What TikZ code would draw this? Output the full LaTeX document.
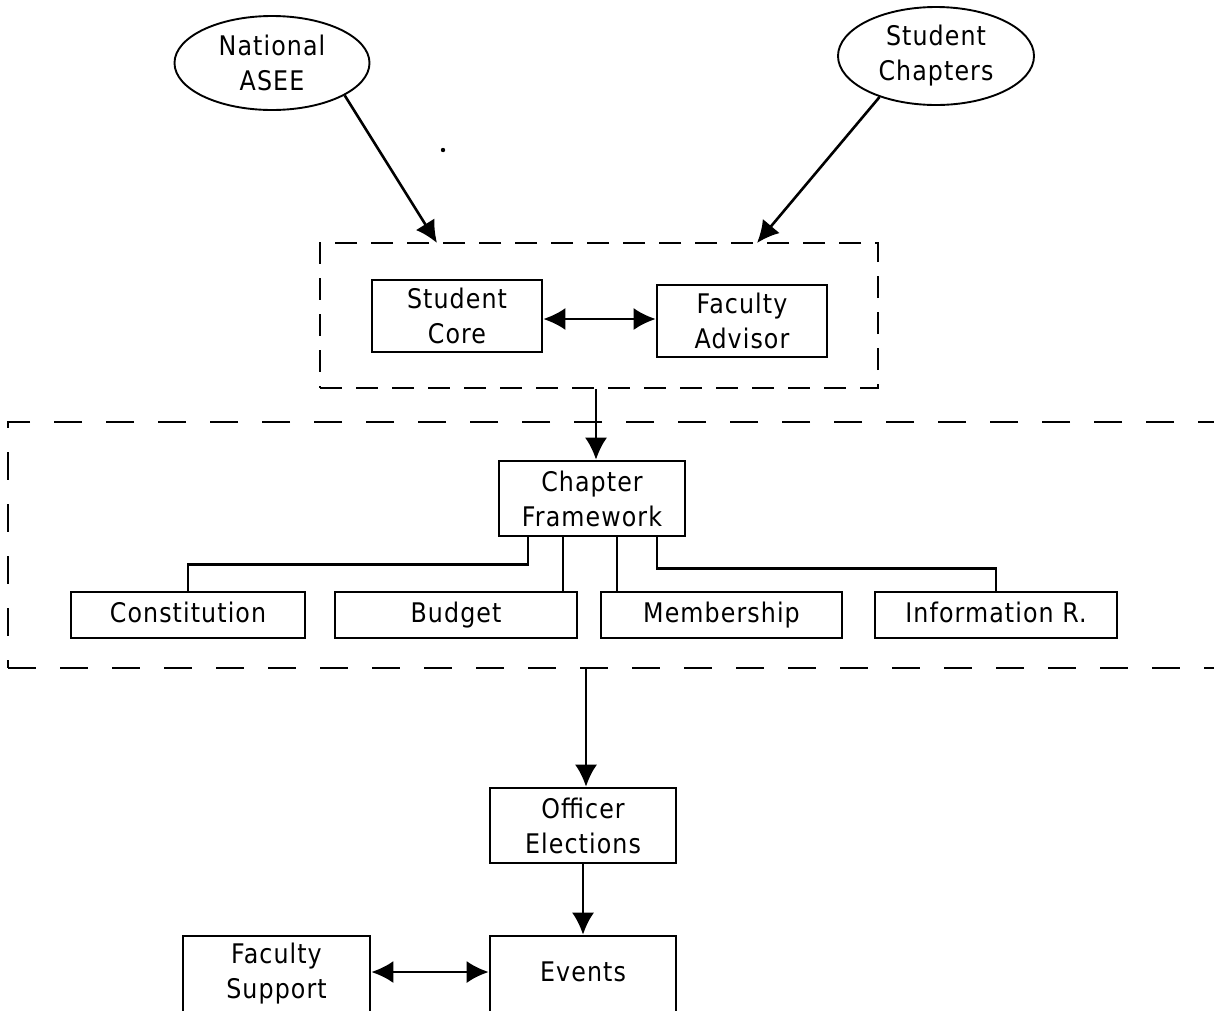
\documentclass[tikz,border=0pt]{standalone}
\usepackage{fontspec}
\setmainfont{DejaVu Sans}[FakeStretch=0.88,LetterSpace=4]
\usetikzlibrary{shapes.geometric,arrows.meta}
\begin{document}
\begin{tikzpicture}[x=1pt,y=-1pt,
  every node/.style={font=\fontsize{27}{35}\selectfont, align=center},
  box/.style={draw, line width=2.6pt, inner sep=0pt},
  oval/.style={draw, ellipse, line width=1.9pt, inner sep=0pt},
  ln/.style={line width=2.6pt},
  arr/.style={line width=2.6pt, -{Latex[length=22pt,width=22pt]}},
  dbl/.style={line width=2.6pt, {Latex[length=22pt,width=22pt]}-{Latex[length=22pt,width=22pt]}},
  grpbox/.style={draw, line width=2.6pt, dash pattern=on 22pt off 14pt, inner sep=0pt},
  bigdash/.style={draw, line width=2.6pt, dash pattern=on 28pt off 24pt, inner sep=0pt},
]
\useasboundingbox (0,0) rectangle (1214,1010);
\clip (0,0) rectangle (1214,1010);
\fill[white] (0,0) rectangle (1214,1010);

% top ovals
\node[oval, minimum width=195pt, minimum height=94pt] (asee) at (272,63) {National\\ASEE};
\node[oval, minimum width=196pt, minimum height=98pt] (chap) at (936,56) {Student\\Chapters};

% leadership group
\node[grpbox, minimum width=558pt, minimum height=145pt] (grp) at (599,315.5) {};
\node[box, minimum width=170pt, minimum height=72pt] (core) at (457,316) {Student\\Core};
\node[box, minimum width=170pt, minimum height=72pt] (adv) at (742,321) {Faculty\\Advisor};
\coordinate (ta) at (437,243);
\coordinate (tb) at (757,243);
\draw[arr] (asee.-24) -- (ta);
\draw[arr] (chap.216) -- (tb);
\coordinate (ya) at (0,319);
\draw[dbl] (core.east |- ya) -- (adv.west |- ya);

% chapter framework phase
\node[bigdash, minimum width=1240pt, minimum height=246pt] (phase) at (628,545) {};
\node[box, minimum width=186pt, minimum height=75pt] (fw) at (592,498.5) {Chapter\\Framework};
\coordinate (xa) at (596,0);
\draw[arr] (grp.south -| xa) -- (fw.north -| xa);

\node[box, minimum width=234pt, minimum height=46pt] (cons) at (188,615) {\strut Constitution};
\node[box, minimum width=242pt, minimum height=46pt] (bud) at (456,615) {\strut Budget};
\node[box, minimum width=241pt, minimum height=46pt] (mem) at (721.5,615) {\strut Membership};
\node[box, minimum width=242pt, minimum height=46pt] (info) at (996,615) {\strut Information R.};

\draw[ln] ([xshift=-64pt]fw.south) -- ++(0,27) -| (cons.north);
\draw[ln] ([xshift=-29pt]fw.south) -- ([xshift=-29pt]fw.south |- bud.north);
\draw[ln] ([xshift=25pt]fw.south) -- ([xshift=25pt]fw.south |- mem.north);
\draw[ln] ([xshift=65pt]fw.south) -- ++(0,31) -| (info.north);

% lower part
\node[box, minimum width=186pt, minimum height=75pt] (off) at (583,825.5) {Officer\\Elections};
\coordinate (xb) at (586,0);
\draw[arr] (phase.south -| xb) -- (off.north -| xb);
\node[box, minimum width=186pt, minimum height=76pt] (ev) at (583,974) {\strut Events};
\draw[arr] (off) -- (ev);
\node[box, minimum width=187pt, minimum height=76pt] (fs) at (276.5,974) {Faculty\\Support};
\coordinate (yb) at (0,972);
\draw[dbl] (fs.east |- yb) -- (ev.west |- yb);

% stray dot
\fill (443,150) circle (2.2pt);
\end{tikzpicture}
\end{document}
